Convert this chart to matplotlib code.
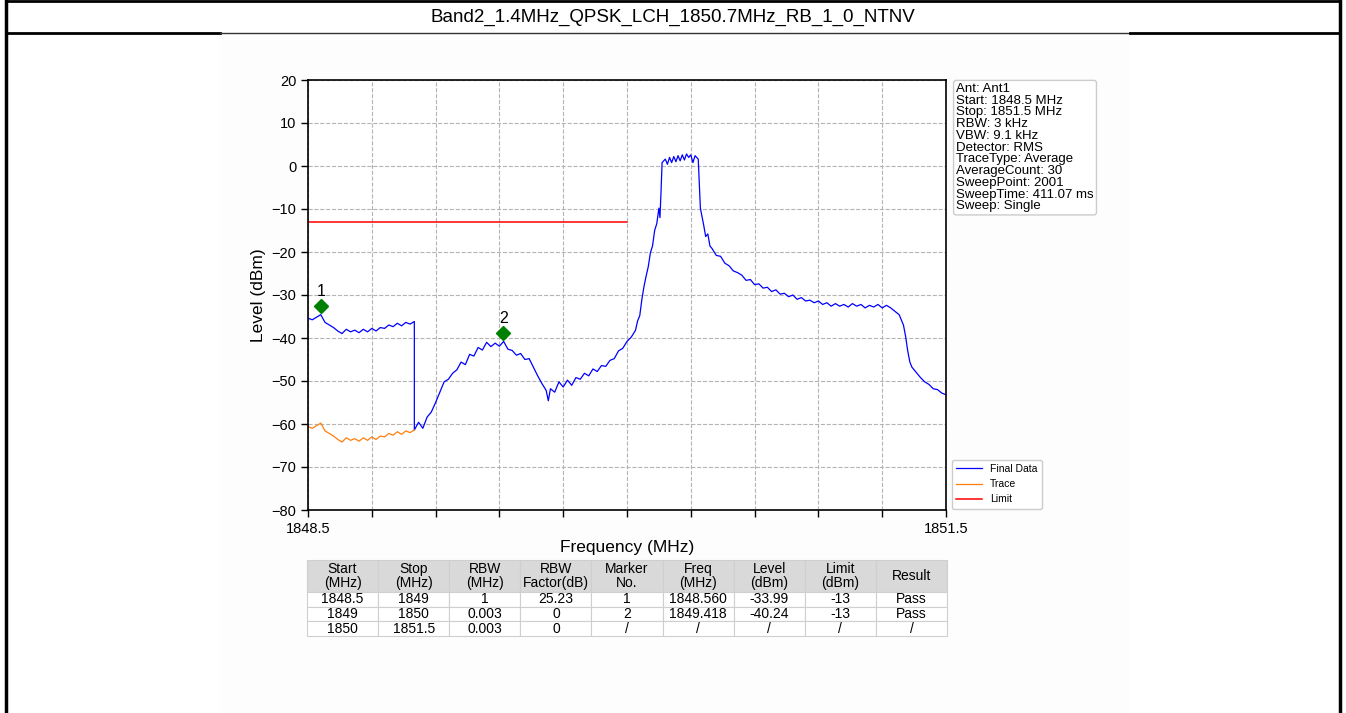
import matplotlib
matplotlib.use('Agg')
import matplotlib.pyplot as plt
from matplotlib.lines import Line2D
from matplotlib.patches import Rectangle
import numpy as np

plt.rcParams['font.family'] = ['Liberation Sans', 'DejaVu Sans']

title = 'Band2_1.4MHz_QPSK_LCH_1850.7MHz_RB_1_0_NTNV'
f_start, f_stop = 1848.5, 1851.5
limit_level = -13
limit_stop = 1850.0
rbw_factor = 25.23

# raw trace (1 MHz RBW segment, before RBW factor)
trace_freq = [1848.50, 1848.52, 1848.54, 1848.56, 1848.58, 1848.60, 1848.62, 1848.64,
              1848.66, 1848.68, 1848.70, 1848.72, 1848.74, 1848.76, 1848.78, 1848.80,
              1848.82, 1848.84, 1848.86, 1848.88, 1848.90, 1848.92, 1848.94, 1848.96,
              1848.98, 1849.00]
trace_level = [-60.6, -61.0, -60.4, -59.8, -61.6, -62.2, -62.8, -63.6,
               -64.2, -63.2, -63.8, -63.4, -64.0, -63.2, -63.8, -63.0,
               -63.6, -62.8, -63.0, -62.2, -62.6, -61.8, -62.4, -61.6,
               -62.0, -61.4]

# final data from 1849 MHz up (3 kHz RBW, factor 0)
final_freq = [1849.00, 1849.02, 1849.04, 1849.06, 1849.08, 1849.10, 1849.12, 1849.14,
              1849.16, 1849.18, 1849.20, 1849.22, 1849.24, 1849.26, 1849.28, 1849.30,
              1849.32, 1849.34, 1849.36, 1849.38, 1849.40, 1849.42, 1849.44, 1849.46,
              1849.48, 1849.50, 1849.52, 1849.54, 1849.56, 1849.58, 1849.60, 1849.62,
              1849.63, 1849.64, 1849.66, 1849.68, 1849.70, 1849.72, 1849.74, 1849.76,
              1849.78, 1849.80, 1849.82, 1849.84, 1849.86, 1849.88, 1849.90, 1849.92,
              1849.94, 1849.96, 1849.98, 1850.00, 1850.02, 1850.04, 1850.05, 1850.06,
              1850.07, 1850.08, 1850.09, 1850.10, 1850.11, 1850.12, 1850.13, 1850.14,
              1850.15, 1850.155, 1850.16, 1850.165, 1850.18, 1850.19, 1850.20, 1850.21,
              1850.22, 1850.23, 1850.24, 1850.25, 1850.26, 1850.27, 1850.28, 1850.29,
              1850.30, 1850.31, 1850.32, 1850.335, 1850.345, 1850.36, 1850.37, 1850.38,
              1850.39, 1850.40, 1850.42, 1850.44, 1850.46, 1850.48, 1850.50, 1850.52,
              1850.54, 1850.56, 1850.58, 1850.60, 1850.62, 1850.64, 1850.66, 1850.68,
              1850.70, 1850.72, 1850.74, 1850.76, 1850.78, 1850.80, 1850.82, 1850.84,
              1850.86, 1850.88, 1850.90, 1850.92, 1850.94, 1850.96, 1850.98, 1851.00,
              1851.02, 1851.04, 1851.06, 1851.08, 1851.10, 1851.12, 1851.14, 1851.16,
              1851.18, 1851.20, 1851.22, 1851.24, 1851.26, 1851.28, 1851.30, 1851.31,
              1851.32, 1851.33, 1851.34, 1851.36, 1851.38, 1851.40, 1851.42, 1851.44,
              1851.46, 1851.48, 1851.50]
final_level = [-61.4, -59.6, -61.0, -58.4, -57.2, -55.0, -52.6, -50.2,
               -49.6, -48.2, -47.4, -45.6, -46.2, -43.8, -44.2, -42.2,
               -42.8, -41.0, -42.0, -41.2, -41.9, -40.8, -42.6, -42.9,
               -44.0, -43.6, -45.0, -44.8, -46.8, -48.8, -50.6, -52.2,
               -54.6, -51.8, -52.6, -50.2, -51.4, -49.8, -51.0, -49.2,
               -49.6, -48.2, -48.8, -47.2, -47.8, -46.4, -46.6, -45.2,
               -44.8, -43.0, -42.4, -40.8, -39.8, -38.2, -36.0, -34.8,
               -31.0, -28.0, -25.6, -23.4, -20.2, -18.6, -15.0, -13.4,
               -9.8, -12.0, -6.0, 0.8, 1.6, 0.4, 2.0, 0.8,
               2.2, 1.0, 2.4, 1.2, 2.6, 1.4, 2.8, 2.0,
               2.6, 0.8, 2.4, 1.6, -9.8, -13.6, -16.4, -15.8,
               -18.6, -19.2, -20.8, -21.0, -22.6, -23.2, -24.4, -24.8,
               -25.4, -26.6, -26.4, -27.6, -27.4, -28.4, -28.2, -29.2,
               -28.8, -29.8, -29.6, -30.4, -30.0, -31.0, -30.6, -31.4,
               -31.2, -31.8, -31.4, -32.2, -31.8, -32.6, -32.0, -32.6,
               -32.2, -32.8, -32.0, -32.6, -32.2, -33.0, -32.4, -32.8,
               -32.2, -33.0, -32.4, -33.0, -33.8, -34.6, -37.0, -39.6,
               -43.0, -45.6, -46.8, -48.0, -49.2, -50.2, -50.8, -51.8,
               -52.0, -52.8, -53.2]

marker_no = ['1', '2']
marker_freq = [1848.560, 1849.418]
marker_level = [-33.99, -40.24]

info_lines = ['Ant: Ant1', 'Start: 1848.5 MHz', 'Stop: 1851.5 MHz', 'RBW: 3 kHz',
              'VBW: 9.1 kHz', 'Detector: RMS', 'TraceType: Average', 'AverageCount: 30',
              'SweepPoint: 2001', 'SweepTime: 411.07 ms', 'Sweep: Single']

col_labels = ['Start\n(MHz)', 'Stop\n(MHz)', 'RBW\n(MHz)', 'RBW\nFactor(dB)', 'Marker\nNo.',
              'Freq\n(MHz)', 'Level\n(dBm)', 'Limit\n(dBm)', 'Result']
rows = [['1848.5', '1849', '1', '25.23', '1', '1848.560', '-33.99', '-13', 'Pass'],
        ['1849', '1850', '0.003', '0', '2', '1849.418', '-40.24', '-13', 'Pass'],
        ['1850', '1851.5', '0.003', '0', '/', '/', '/', '/', '/']]

W, H = 1346, 713
fig = plt.figure(figsize=(W / 100, H / 100), dpi=100)

# page frame and inner picture background
fig.add_artist(Rectangle((220 / W, 0), 910 / W, 680 / H, transform=fig.transFigure,
                         facecolor='#fdfdfd', edgecolor='none', zorder=0))
fig.add_artist(Line2D([6 / W, 6 / W], [0, 1], color='black', lw=2.5))
fig.add_artist(Line2D([1340 / W, 1340 / W], [0, 1], color='black', lw=2.5))
fig.add_artist(Line2D([6 / W, 1340 / W], [1 - 1 / H, 1 - 1 / H], color='black', lw=2))
hy = 1 - 32.5 / H
fig.add_artist(Line2D([6 / W, 220 / W], [hy, hy], color='black', lw=2))
fig.add_artist(Line2D([220 / W, 1130 / W], [hy, hy], color='#333333', lw=1))
fig.add_artist(Line2D([1130 / W, 1340 / W], [hy, hy], color='black', lw=2))
fig.text(673 / W, 1 - 17 / H, title, ha='center', va='center', fontsize=13.5,
         family=['Liberation Sans Narrow', 'Liberation Sans', 'DejaVu Sans'])

ax = fig.add_axes([308 / W, 1 - 510 / H, 638 / W, 430 / H])
ax.set_facecolor('white')

final_x = np.concatenate([trace_freq, final_freq])
final_y = np.concatenate([np.array(trace_level) + rbw_factor, final_level])
ax.plot(final_x, final_y, color='blue', lw=0.9, label='Final Data')
ax.plot(trace_freq, trace_level, color='#ff7f0e', lw=0.9, label='Trace')
ax.plot([f_start, limit_stop], [limit_level, limit_level], color='red', lw=1.1, label='Limit')

for no, f, lv in zip(marker_no, marker_freq, marker_level):
    ax.plot(f, lv + 1.5, marker='D', color='green', ms=7, ls='none')
    ax.annotate(no, (f, lv + 1.5), xytext=(0, 5), textcoords='offset points',
                ha='center', va='bottom', fontsize=11.5)

ax.set_xlim(f_start, f_stop)
ax.set_ylim(-80, 20)
xt = np.linspace(f_start, f_stop, 11)
ax.set_xticks(xt)
ax.set_xticklabels(['1848.5'] + [''] * 9 + ['1851.5'])
ax.set_yticks(np.arange(-80, 21, 10))
ax.tick_params(labelsize=10.5, length=5, width=1)
ax.grid(True, ls='--', color='#b4b4b4', lw=0.8)
for s in ax.spines.values():
    s.set_linewidth(1.2)
ax.set_xlabel('Frequency (MHz)', fontsize=12.5, labelpad=3)
ax.set_ylabel('Level (dBm)', fontsize=12.5, labelpad=4)

ax.text(1.016, 0.993, '\n'.join(info_lines), transform=ax.transAxes, ha='left', va='top',
        fontsize=9.5, linespacing=0.97,
        bbox=dict(boxstyle='round,pad=0.2', fc='white', ec='#cccccc', lw=1))

ax.legend(loc='lower left', bbox_to_anchor=(1.004, -0.004), fontsize=7.5,
          handlelength=2.5, framealpha=1, edgecolor='#cccccc', borderaxespad=0.3)

tax = fig.add_axes([307 / W, 1 - 636 / H, 640 / W, 76 / H])
tax.axis('off')
tbl = tax.table(cellText=rows, colLabels=col_labels, cellLoc='center', bbox=[0, 0, 1, 1])
tbl.auto_set_font_size(False)
tbl.set_fontsize(10)
for (r, c), cell in tbl.get_celld().items():
    cell.set_edgecolor('#cfcfcf')
    cell.set_linewidth(0.8)
    if r == 0:
        cell.set_facecolor('#d9d9d9')
        cell.set_height(0.42)
        cell.get_text().set_linespacing(0.95)
    else:
        cell.set_height(0.193)

fig.savefig('out.png', dpi=100, facecolor='white')
